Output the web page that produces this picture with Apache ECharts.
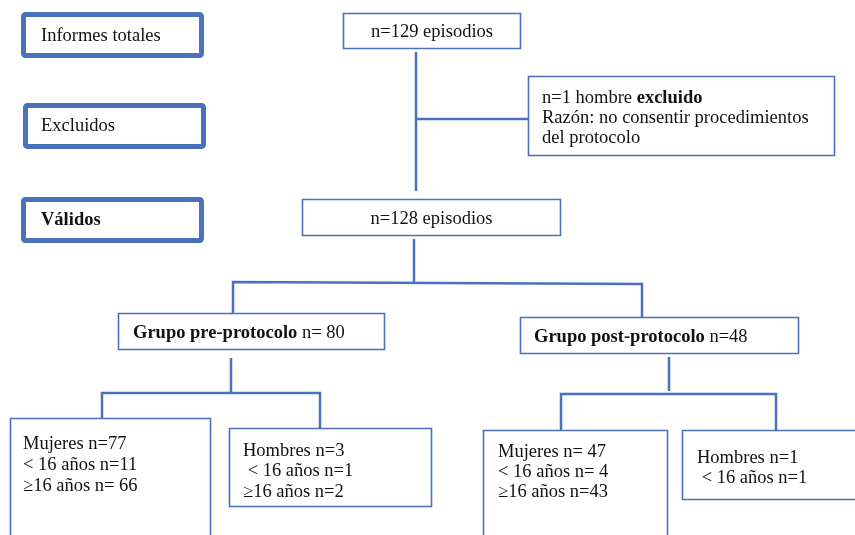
<!DOCTYPE html>
<html>
<head>
<meta charset="utf-8">
<script src="https://cdn.jsdelivr.net/npm/echarts/dist/echarts.min.js"></script>
<style>
html,body{margin:0;padding:0;background:#fff;}
#chart{width:855px;height:535px;}
</style>
</head>
<body>
<div id="chart"></div>
<script>
// ---- content (text data) ----
const stageLabels = ['Informes totales', 'Excluidos', 'Válidos'];
const totalText = 'n=129 episodios';
const excludedCount = 'n=1 hombre ';
const excludedWord = 'excluido';
const excludedReason = ['Razón: no consentir procedimientos', 'del protocolo'];
const validText = 'n=128 episodios';
const groupNames = ['Grupo pre-protocolo', 'Grupo post-protocolo'];
const groupCounts = [' n= 80', ' n=48'];
const subgroupLines = [
  ['Mujeres n=77', '< 16 años n=11', '≥16 años n= 66'],
  ['Hombres n=3', ' < 16 años n=1', '≥16 años n=2'],
  ['Mujeres n= 47', '< 16 años n= 4', '≥16 años n=43'],
  ['Hombres n=1', ' < 16 años n=1']
];

// ---- layout ----
const BLUE = '#4a72bc';
const FONT = '18.5px "Liberation Serif", "Times New Roman", serif';
const BOLD = 'bold 18.5px "Liberation Serif", "Times New Roman", serif';

const stageBoxes = [
  {x: 23.5, y: 14.5, w: 178, h: 41, tx: 41, ty: 36},
  {x: 25.5, y: 105.5, w: 178, h: 41, tx: 41, ty: 126},
  {x: 23.5, y: 199.5, w: 178, h: 41, tx: 41, ty: 220}
];
const thinBoxes = {
  total: {x: 343.5, y: 13.5, w: 177, h: 35},
  excl: {x: 528.5, y: 76.5, w: 306, h: 79},
  valid: {x: 302.5, y: 199.5, w: 258, h: 36},
  pre: {x: 118.5, y: 313.5, w: 266, h: 36},
  post: {x: 520.5, y: 317.5, w: 278, h: 36},
  sub: [
    {x: 10.5, y: 418.5, w: 200, h: 140, tx: 23, ty: 444, lh: 21},
    {x: 229.5, y: 428.5, w: 202, h: 78, tx: 243, ty: 451, lh: 20.5},
    {x: 483.5, y: 430.5, w: 184, h: 140, tx: 498, ty: 452, lh: 20},
    {x: 682.5, y: 430.5, w: 200, h: 69, tx: 697, ty: 458, lh: 20}
  ]
};
const connectors = [
  [[416, 52], [416, 191]],
  [[416, 119], [528, 119]],
  [[414, 239], [414, 282]],
  [[233, 313], [233, 282], [642, 284], [642, 317]],
  [[231, 358], [231, 393]],
  [[102, 427], [102, 393], [320, 393], [320, 428]],
  [[669, 357], [669, 391]],
  [[561, 430], [561, 394], [776, 394], [776, 430]]
];

const elements = [];
function rect(b, lw, r) {
  elements.push({
    type: 'rect',
    shape: {x: b.x, y: b.y, width: b.w, height: b.h, r: r || 0},
    style: {fill: '#fff', stroke: BLUE, lineWidth: lw}
  });
}
function text(x, y, content, opts) {
  opts = opts || {};
  elements.push({
    type: 'text',
    style: Object.assign({
      x: x, y: y, text: content, font: FONT, fill: '#111',
      align: opts.align || 'left', verticalAlign: 'middle'
    }, opts.rich ? {rich: opts.rich} : {})
  });
}
const rich = {
  n: {font: FONT, fill: '#111'},
  b: {font: BOLD, fill: '#111'}
};

// stage boxes (thick)
stageBoxes.forEach((b, i) => {
  rect(b, 5, 2);
  if (i === 2) text(b.tx, b.ty, '{b|' + stageLabels[i] + '}', {rich});
  else text(b.tx, b.ty, stageLabels[i]);
});

// connectors
connectors.forEach(pts => {
  elements.push({
    type: 'polyline',
    shape: {points: pts},
    style: {stroke: BLUE, lineWidth: 2.5, fill: null}
  });
});

// thin boxes
const T = thinBoxes;
rect(T.total, 1.6);
text(T.total.x + T.total.w / 2, 32, totalText, {align: 'center'});
rect(T.excl, 1.6);
text(542, 98, '{n|' + excludedCount + '}{b|' + excludedWord + '}', {rich});
text(542, 118, excludedReason[0]);
text(542, 138, excludedReason[1]);
rect(T.valid, 1.6);
text(T.valid.x + T.valid.w / 2, 219, validText, {align: 'center'});
rect(T.pre, 1.6);
text(133, 333, '{b|' + groupNames[0] + '}{n|' + groupCounts[0] + '}', {rich});
rect(T.post, 1.6);
text(534, 337, '{b|' + groupNames[1] + '}{n|' + groupCounts[1] + '}', {rich});
T.sub.forEach((b, i) => {
  rect(b, 1.6);
  subgroupLines[i].forEach((line, j) => {
    text(b.tx, b.ty + j * b.lh, line);
  });
});

const chart = echarts.init(document.getElementById('chart'), null, {renderer: 'canvas'});
chart.setOption({
  backgroundColor: '#fff',
  animation: false,
  graphic: {elements: elements}
});
</script>
</body>
</html>
